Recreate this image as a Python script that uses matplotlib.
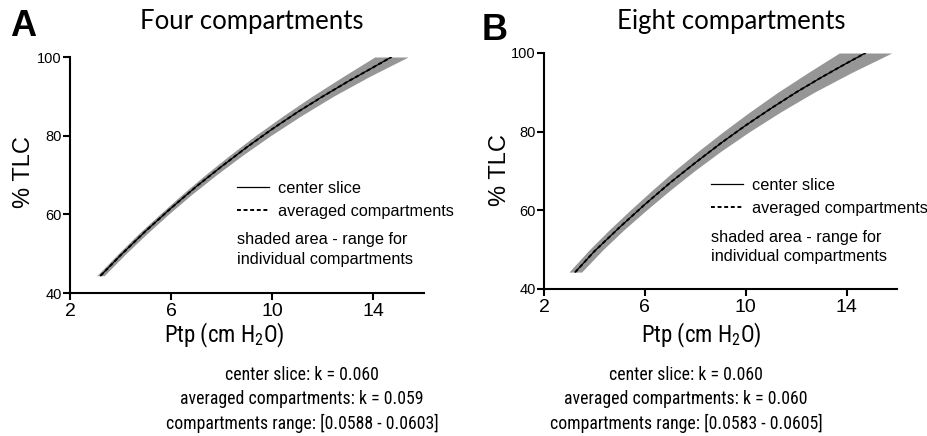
import numpy as np
import matplotlib
matplotlib.use('Agg')
import matplotlib.pyplot as plt
from matplotlib import font_manager as fm

# ---------------- data ----------------
titles = ["Four compartments", "Eight compartments"]
panel_letters = ["A", "B"]
xticks = [2, 6, 10, 14]
yticks = [40, 60, 80, 100]

# Panel A
ptp_a = [3.21, 4.0, 5.0, 6.0, 7.0, 8.0, 9.0, 10.0, 11.0, 12.0, 13.0, 14.0, 14.71]
tlc_center_a = [44.4, 49.6, 55.8, 61.6, 67.1, 72.2, 77.1, 81.7, 86.0, 90.0, 93.8, 97.4, 100.0]
tlc_avg_a = [44.4, 49.6, 55.8, 61.6, 67.1, 72.2, 77.1, 81.7, 86.0, 90.0, 93.8, 97.4, 100.0]
band_tlc_a = [44.4, 50, 55, 60, 65, 70, 75, 80, 85, 90, 95, 100]
band_lo_a = [3.06, 3.91, 4.70, 5.55, 6.42, 7.34, 8.31, 9.33, 10.42, 11.57, 12.79, 14.05]
band_hi_a = [3.35, 4.21, 5.03, 5.89, 6.80, 7.78, 8.82, 9.93, 11.13, 12.41, 13.83, 15.37]

# Panel B
ptp_b = [3.24, 4.0, 5.0, 6.0, 7.0, 8.0, 9.0, 10.0, 11.0, 12.0, 13.0, 14.0, 14.75]
tlc_center_b = [44.3, 49.6, 55.7, 61.5, 67.0, 72.1, 77.0, 81.6, 85.9, 90.0, 93.8, 97.4, 100.0]
tlc_avg_b = [44.3, 49.6, 55.7, 61.5, 67.0, 72.1, 77.0, 81.6, 85.9, 90.0, 93.8, 97.4, 100.0]
band_tlc_b = [44.3, 50, 55, 60, 65, 70, 75, 80, 85, 90, 95, 100]
band_lo_b = [2.99, 3.80, 4.58, 5.41, 6.27, 7.16, 8.11, 9.11, 10.16, 11.27, 12.47, 13.71]
band_hi_b = [3.49, 4.34, 5.16, 6.05, 6.98, 7.96, 9.01, 10.15, 11.38, 12.71, 14.19, 15.79]

k_center = ["0.060", "0.060"]
k_avg = ["0.059", "0.060"]
k_range = [("0.0588", "0.0603"), ("0.0583", "0.0605")]

# ---------------- fonts ----------------
names = {f.name for f in fm.fontManager.ttflist}
def pick(cands, default):
    for c in cands:
        if c in names:
            return c
    return default

ARIAL = pick(["Liberation Sans", "Arial"], "DejaVu Sans")
TITLEF = pick(["Lato", "Open Sans", "Noto Sans"], ARIAL)
COND = pick(["Roboto Condensed", "Open Sans Condensed", "Liberation Sans Narrow",
             "Noto Sans Condensed", "Arial Narrow", "DejaVu Sans Condensed"], None)
cond_scale = 1.0
if COND is None:
    COND = ARIAL
    cond_scale = 0.8

plt.rcParams['mathtext.default'] = 'regular'

W, H = 928, 436
fig = plt.figure(figsize=(W / 100, H / 100), dpi=100)

def fx(x):
    return x / W

def fy(y):
    return 1 - y / H

panels = [
    dict(rect=[fx(70), fy(293), 354 / W, 236 / H], ptp=ptp_a, c=tlc_center_a, a=tlc_avg_a,
         by=band_tlc_a, blo=band_lo_a, bhi=band_hi_a,
         letter=(23, 26), title=(252, 22), ylab=(24, 172), xlab=(224, 335), bottom=302,
         leg=(237, 200), shade=(237, 239, 259)),
    dict(rect=[fx(544), fy(289), 353 / W, 236 / H], ptp=ptp_b, c=tlc_center_b, a=tlc_avg_b,
         by=band_tlc_b, blo=band_lo_b, bhi=band_hi_b,
         letter=(495, 31), title=(731, 22), ylab=(500, 170), xlab=(701, 335), bottom=686,
         leg=(711, 197), shade=(711, 237, 256)),
]

for i, p in enumerate(panels):
    ax = fig.add_axes(p['rect'])
    ax.fill_betweenx(p['by'], p['blo'], p['bhi'], color='#969696', lw=0, zorder=1)
    l1, = ax.plot(p['ptp'], p['c'], color='black', lw=0.9, zorder=2, label='center slice')
    l2, = ax.plot(p['ptp'], p['a'], color='black', lw=1.4, ls=(0, (2, 1.4)), zorder=3,
                  label='averaged compartments')
    ax.set_xlim(2, 16)
    ax.set_ylim(40, 100)
    ax.set_xticks(xticks)
    ax.set_yticks(yticks)
    for s in ['top', 'right']:
        ax.spines[s].set_visible(False)
    for s in ['left', 'bottom']:
        ax.spines[s].set_linewidth(1.5)
    ax.tick_params(direction='out', length=5, width=1.5)
    ax.tick_params(axis='x', labelsize=14, pad=2)
    ax.tick_params(axis='y', labelsize=10.5, pad=1)
    for lab in ax.get_xticklabels() + ax.get_yticklabels():
        lab.set_fontfamily(ARIAL)

    fig.legend(handles=[l1, l2], loc='center left',
               bbox_to_anchor=(fx(p['leg'][0]), fy(p['leg'][1])),
               frameon=False, borderpad=0, borderaxespad=0, handlelength=1.95,
               handletextpad=0.55, labelspacing=0.5,
               prop=dict(family=ARIAL, size=11.7))
    fig.text(fx(p['shade'][0]), fy(p['shade'][1]), "shaded area - range for",
             family=ARIAL, fontsize=11.7, ha='left', va='center')
    fig.text(fx(p['shade'][0]), fy(p['shade'][2]), "individual compartments",
             family=ARIAL, fontsize=11.7, ha='left', va='center')

    fig.text(fx(p['letter'][0]), fy(p['letter'][1]), panel_letters[i], family=ARIAL,
             fontweight='bold', fontsize=26, ha='center', va='center')
    fig.text(fx(p['title'][0]), fy(p['title'][1]), titles[i], family=TITLEF,
             fontsize=18.5, ha='center', va='center')
    fig.text(fx(p['ylab'][0]), fy(p['ylab'][1]), "% TLC", family=ARIAL, fontsize=17,
             rotation=90, ha='center', va='center')
    fig.text(fx(p['xlab'][0]), fy(p['xlab'][1]), "Ptp (cm H$_2$O)", family=COND,
             fontsize=16.5 * cond_scale, ha='center', va='center')
    bx = fx(p['bottom'])
    lines = ["center slice: k = " + k_center[i],
             "averaged compartments: k = " + k_avg[i],
             "compartments range: [" + k_range[i][0] + " - " + k_range[i][1] + "]"]
    for j, s in enumerate(lines):
        fig.text(bx, fy(375 + 24 * j), s, family=COND, fontsize=12.8 * cond_scale,
                 ha='center', va='center')

fig.savefig('out.png', dpi=100)
